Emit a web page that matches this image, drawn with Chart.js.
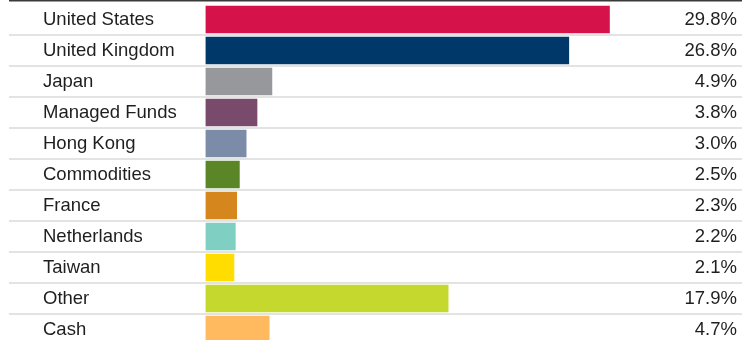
<!DOCTYPE html>
<html>
<head>
<meta charset="utf-8">
<script src="https://cdn.jsdelivr.net/npm/chart.js@4"></script>
<style>
  html, body { margin: 0; padding: 0; background: #fff; overflow: hidden; }
  #wrap { position: relative; width: 742px; height: 345px; }
</style>
</head>
<body>
<div id="wrap"><canvas id="allocationChart"></canvas></div>
<script>
// Allocation by region - horizontal bar chart
const categories = ['United States', 'United Kingdom', 'Japan', 'Managed Funds', 'Hong Kong',
    'Commodities', 'France', 'Netherlands', 'Taiwan', 'Other', 'Cash'];
const weights = [29.8, 26.8, 4.9, 3.8, 3.0, 2.5, 2.3, 2.2, 2.1, 17.9, 4.7];
const barColors = ['#D5124A', '#00386A', '#97989C', '#7A4A6C', '#7C8BA8', '#5B8628',
    '#D5861C', '#7FCFC3', '#FFDD00', '#C4D82E', '#FFBA5F'];
const weightLabels = weights.map(v => v.toFixed(1) + '%');

const labelFont = { family: 'Arial, "Liberation Sans", sans-serif', size: 18.5 };

// row separators + dark top rule
const rowLines = {
    id: 'rowLines',
    beforeDatasetsDraw(chart) {
        const ctx = chart.ctx;
        const y = chart.scales.y;
        ctx.save();
        ctx.fillStyle = '#3a3a3a';
        ctx.fillRect(9, 0, chart.width - 9, 1.5);
        ctx.fillStyle = '#e3e3e3';
        for (let i = 0; i < categories.length - 1; i++) {
            const b = Math.round((y.getPixelForValue(i) + y.getPixelForValue(i + 1)) / 2);
            ctx.fillRect(9, b - 1, chart.width - 9, 2);
        }
        ctx.restore();
    }
};

// fixed axis widths, no label overhang padding
function fitAxis(width) {
    return (scale) => {
        scale.width = width;
        scale.paddingTop = 0;
        scale.paddingBottom = 0;
    };
}

function initAllocationChart() {
    const ctx = document.getElementById('allocationChart');
    new Chart(ctx.getContext('2d'), {
        type: 'bar',
        data: {
            labels: categories,
            datasets: [{
                data: weights,
                backgroundColor: barColors,
                borderWidth: 0,
                barThickness: 27
            }]
        },
        options: {
            indexAxis: 'y',
            responsive: true,
            maintainAspectRatio: false,
            animation: false,
            layout: { padding: { left: 43, right: 5, top: 4, bottom: 0 } },
            plugins: {
                legend: { display: false },
                tooltip: { enabled: false }
            },
            scales: {
                x: {
                    display: false,
                    min: 0,
                    max: 32.2
                },
                y: {
                    position: 'left',
                    grid: { display: false, drawTicks: false },
                    border: { display: false },
                    ticks: {
                        crossAlign: 'far',
                        autoSkip: false,
                        padding: 0,
                        color: '#1e1e1e',
                        font: labelFont
                    },
                    afterFit: fitAxis(162.5)
                },
                y2: {
                    type: 'category',
                    position: 'right',
                    labels: weightLabels,
                    offset: true,
                    grid: { display: false, drawTicks: false },
                    border: { display: false },
                    ticks: {
                        crossAlign: 'far',
                        autoSkip: false,
                        padding: 0,
                        color: '#1e1e1e',
                        font: labelFont
                    },
                    afterFit: fitAxis(95)
                }
            }
        },
        plugins: [rowLines]
    });
}

document.addEventListener('DOMContentLoaded', initAllocationChart);
</script>
</body>
</html>
